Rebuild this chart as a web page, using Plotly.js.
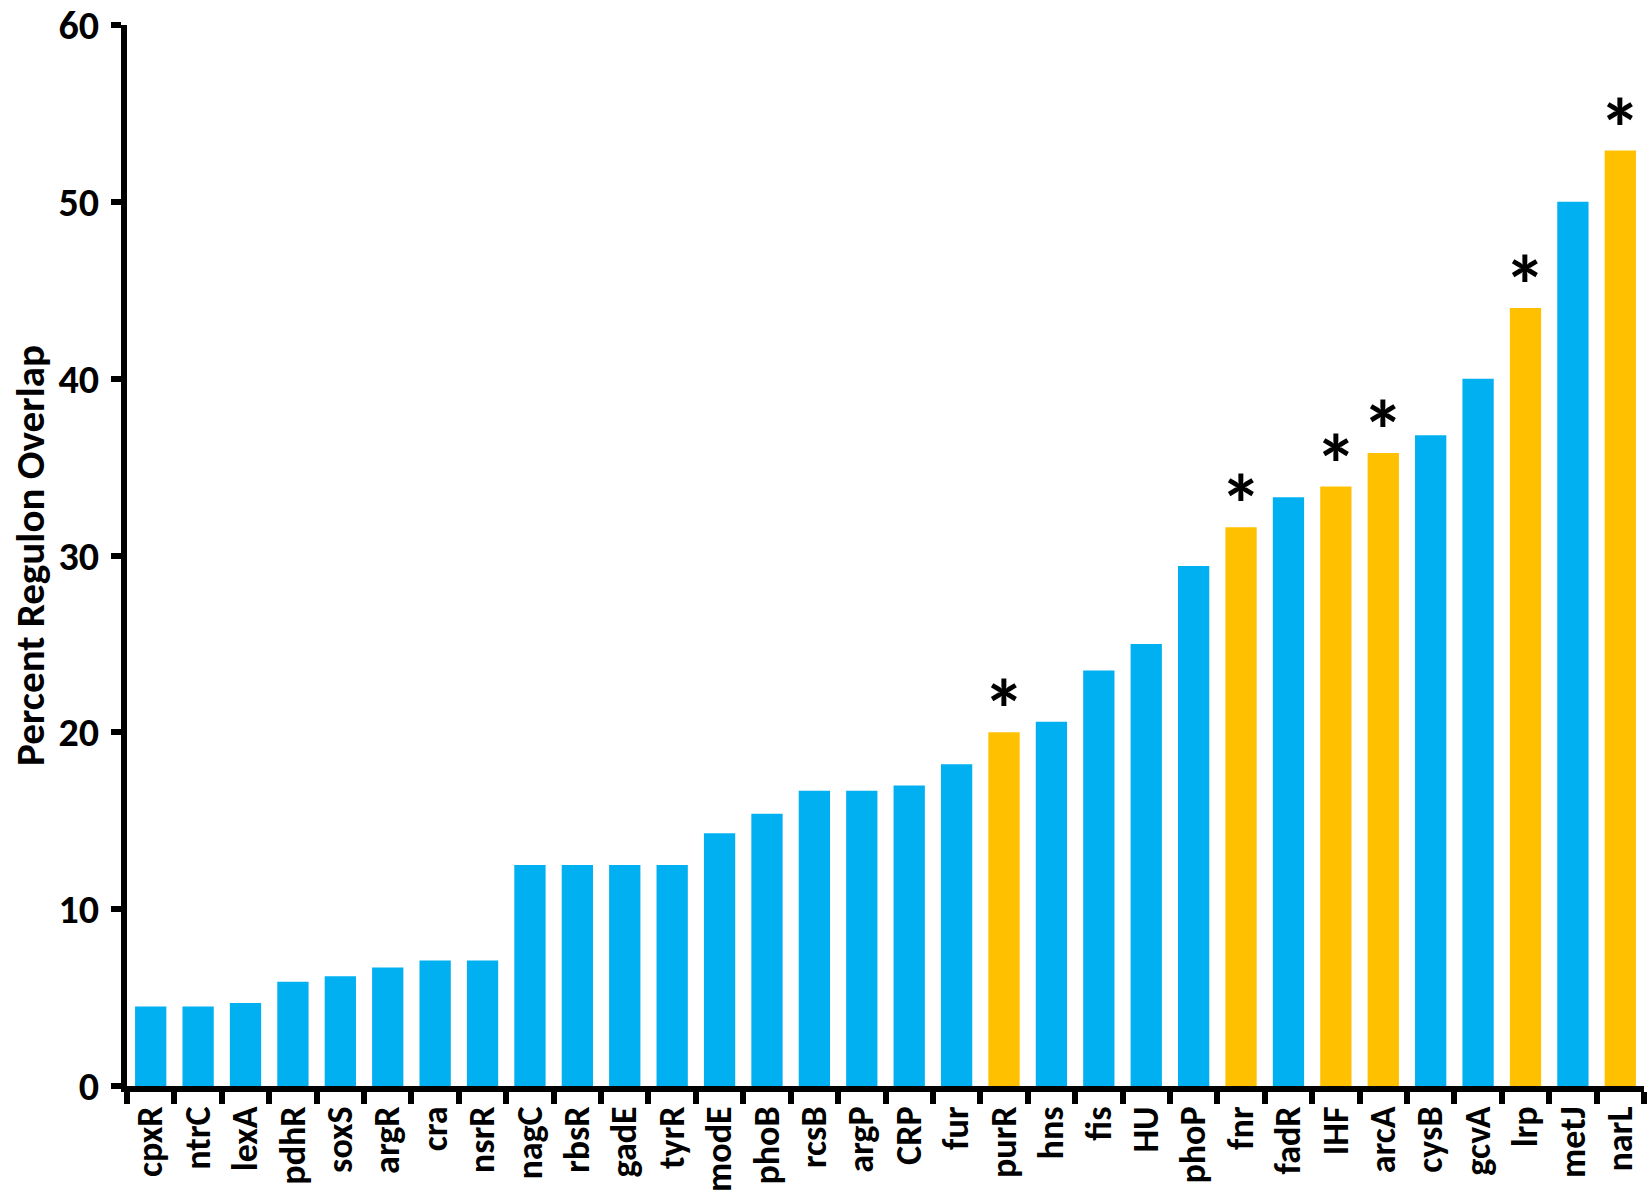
<!DOCTYPE html>
<html>
<head>
<meta charset="utf-8">
<script src="https://cdn.plot.ly/plotly-3.0.1.min.js"></script>
<style>
  html, body { margin: 0; padding: 0; background: #fff; }
  #chart { width: 1650px; height: 1202px; }
</style>
</head>
<body>
<div id="chart"></div>
<script>
// regulators, ordered as in the figure
const regulators = ['cpxR', 'ntrC', 'lexA', 'pdhR', 'soxS', 'argR', 'cra', 'nsrR',
    'nagC', 'rbsR', 'gadE', 'tyrR', 'modE', 'phoB', 'rcsB', 'argP', 'CRP', 'fur',
    'purR', 'hns', 'fis', 'HU', 'phoP', 'fnr', 'fadR', 'IHF', 'arcA', 'cysB',
    'gcvA', 'lrp', 'metJ', 'narL'];

const overlap = [4.5, 4.5, 4.7, 5.9, 6.2, 6.7, 7.1, 7.1,
    12.5, 12.5, 12.5, 12.5, 14.3, 15.4, 16.7, 16.7, 17.0, 18.2,
    20.0, 20.6, 23.5, 25.0, 29.4, 31.6, 33.3, 33.9, 35.8, 36.8,
    40.0, 44.0, 50.0, 52.9];

// regulators marked significant (orange + asterisk)
const significant = ['purR', 'fnr', 'IHF', 'arcA', 'lrp', 'narL'];

const yTicks = [0, 10, 20, 30, 40, 50, 60];

const blue = '#00B0F0';
const orange = '#FFC000';
const fontFamily = 'Carlito, Lato, "Open Sans", sans-serif';

const barColors = regulators.map(r => significant.includes(r) ? orange : blue);

const trace = {
    x: regulators,
    y: overlap,
    type: 'bar',
    marker: { color: barColors, line: { width: 0 } },
    hoverinfo: 'x+y'
};

const stars = regulators
    .map((r, i) => ({ r, v: overlap[i] }))
    .filter(d => significant.includes(d.r))
    .map(d => ({
        x: d.r,
        y: d.v,
        xref: 'x',
        yref: 'y',
        text: '*',
        showarrow: false,
        yanchor: 'bottom',
        yshift: -32,
        font: { family: fontFamily, size: 84, color: '#000', weight: 'bold' }
    }));

const layout = {
    width: 1650,
    height: 1202,
    margin: { l: 127, r: 6, t: 25, b: 116 },
    paper_bgcolor: '#fff',
    plot_bgcolor: '#fff',
    bargap: 0.34,
    showlegend: false,
    font: { family: fontFamily, color: '#000', weight: 'bold' },
    xaxis: {
        type: 'category',
        tickmode: 'array',
        tickvals: regulators,
        ticktext: regulators,
        tickangle: -90,
        tickfont: { family: fontFamily, size: 36, color: '#000', weight: 'bold' },
        ticks: 'outside',
        tickson: 'boundaries',
        ticklen: 12,
        tickwidth: 6,
        tickcolor: '#000',
        ticklabelstandoff: 0,
        showline: true,
        linecolor: '#000',
        linewidth: 6,
        showgrid: false,
        zeroline: false,
        fixedrange: true
    },
    yaxis: {
        range: [0, 60],
        tickmode: 'array',
        tickvals: yTicks,
        ticktext: yTicks.map(String),
        tickfont: { family: fontFamily, size: 40, color: '#000', weight: 'bold' },
        ticklabeloverflow: 'allow',
        ticks: 'outside',
        ticklen: 10,
        tickwidth: 6,
        tickcolor: '#000',
        ticklabelstandoff: 4,
        showline: true,
        linecolor: '#000',
        linewidth: 6,
        showgrid: false,
        zeroline: false,
        fixedrange: true,
        title: {
            text: 'Percent Regulon Overlap',
            font: { family: fontFamily, size: 41, color: '#000', weight: 'bold' },
            standoff: 3
        }
    },
    annotations: stars
};

Plotly.newPlot('chart', [trace], layout, { displayModeBar: false, staticPlot: true });
</script>
</body>
</html>
